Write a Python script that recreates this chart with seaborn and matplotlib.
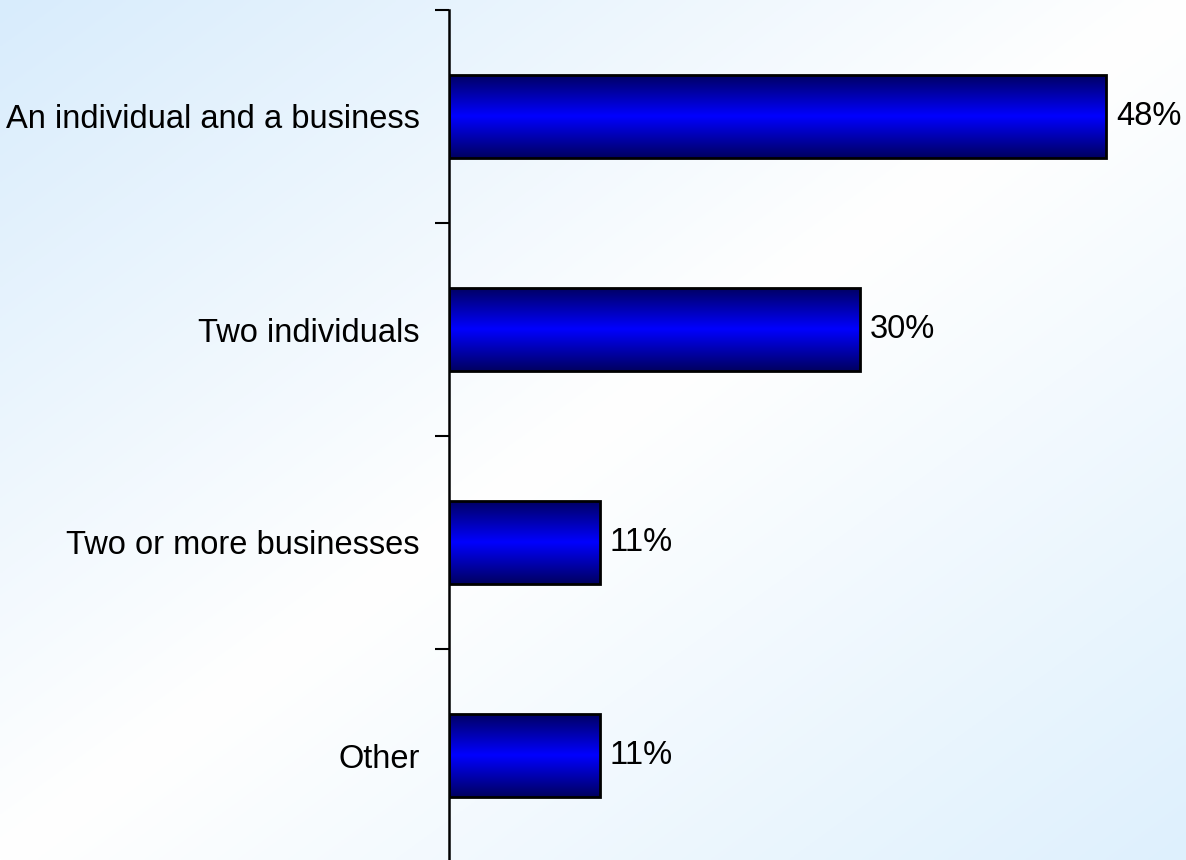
import numpy as np
import pandas as pd
import matplotlib
matplotlib.use("Agg")
import matplotlib.pyplot as plt
import seaborn as sns
from matplotlib.colors import LinearSegmentedColormap

categories = ["An individual and a business", "Two individuals",
              "Two or more businesses", "Other"]
values = [48, 30, 11, 11]
value_labels = ["48%", "30%", "11%", "11%"]

sns.set_theme(style="white")
plt.rcParams["font.family"] = ["Liberation Sans", "DejaVu Sans"]

W, H = 1186, 860
fig = plt.figure(figsize=(W / 100, H / 100), dpi=100)

# Diagonal background wash: light blue corners, white band across the middle
bg = fig.add_axes([0, 0, 1, 1], zorder=0)
bg.set_axis_off()
xx, yy = np.meshgrid(np.linspace(0, 1, 400), np.linspace(0, 1, 300))
t = (xx + yy) / 2.0
c_tl = np.array([216, 236, 252]) / 255
c_mid = np.array([255, 255, 255]) / 255
c_br = np.array([222, 240, 253]) / 255
lo = t <= 0.5
s = (t / 0.5)[..., None]
s2 = ((t - 0.5) / 0.5)[..., None]
img = np.where(lo[..., None], c_tl * (1 - s) + c_mid * s, c_mid * (1 - s2) + c_br * s2)
bg.imshow(img, extent=[0, 1, 0, 1], origin="upper", aspect="auto")
bg.set_xlim(0, 1)
bg.set_ylim(0, 1)

# Main axes
left = 449 / W
ax = fig.add_axes([left, -2 / H, 1 - left, 852 / H], zorder=1)
ax.patch.set_alpha(0)

df = pd.DataFrame({"category": categories, "value": values})
sns.barplot(data=df, x="value", y="category", orient="h", ax=ax,
            width=0.39, color="#0000ff", edgecolor="black", linewidth=2)

xmax = 737 / 13.69

# Vertical gradient fill for each bar (dark navy edges, bright blue centre)
bar_cmap = LinearSegmentedColormap.from_list(
    "barshade", [(0.0, "#000060"), (0.5, "#0000ff"), (1.0, "#000060")])
grad = np.linspace(0, 1, 256)[:, None]
for p in ax.patches:
    x0, y0 = p.get_x(), p.get_y()
    w, h = p.get_width(), p.get_height()
    im = ax.imshow(grad, cmap=bar_cmap, aspect="auto",
                   extent=[x0, x0 + w, y0 + h, y0], zorder=2,
                   interpolation="bicubic")
    im.set_clip_path(p)
    p.set_facecolor("none")
    p.set_zorder(3)
ax.set_xlim(0, xmax)
ax.set_ylim(len(categories) - 0.5, -0.5)

for i, (v, lab) in enumerate(zip(values, value_labels)):
    ax.text(v + 0.75, i, lab, va="center", ha="left", fontsize=23.5,
            color="black")

# Category boundary ticks on the left spine
ax.set_yticks(np.arange(-0.5, len(categories), 1.0))
ax.set_yticklabels([])
ax.set_yticks(np.arange(len(categories)), minor=True)
ax.set_yticklabels(categories, minor=True, fontsize=23.5, color="black")
ax.tick_params(axis="y", which="major", direction="out", length=10,
               width=1.5, color="black", left=True)
ax.tick_params(axis="y", which="minor", length=0, pad=21, labelcolor="black")
ax.set_xticks([])
ax.set_xlabel("")
ax.set_ylabel("")
for side in ["top", "right", "bottom"]:
    ax.spines[side].set_visible(False)
ax.spines["left"].set_color("black")
ax.spines["left"].set_linewidth(1.8)

fig.savefig("out.png", dpi=100)
